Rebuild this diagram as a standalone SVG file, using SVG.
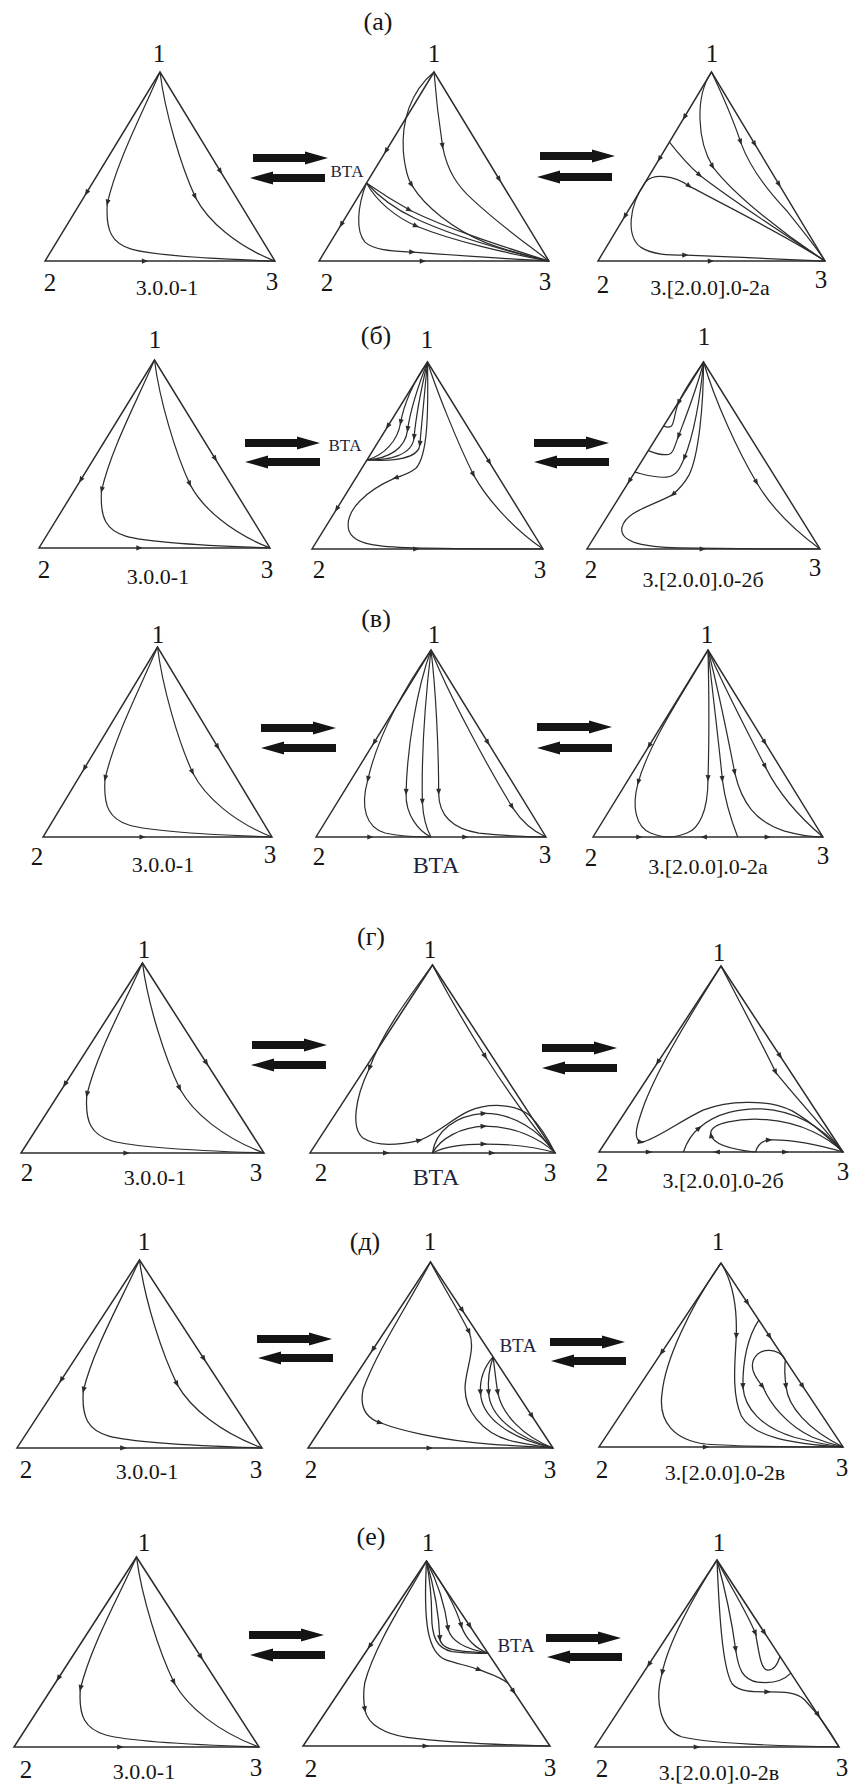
<svg xmlns="http://www.w3.org/2000/svg" xmlns:xlink="http://www.w3.org/1999/xlink" width="853" height="1789" viewBox="0 0 853 1789" font-family="Liberation Serif, serif">
<style>
.e{fill:none;stroke:#2c2c2c;stroke-width:1.5}
.c{fill:none;stroke:#2c2c2c;stroke-width:1.25}
.a,.m{fill:none;stroke:#2c2c2c;stroke-width:1.25;marker-end:url(#ah)}
text{font-family:"Liberation Serif",serif;fill:#151515;text-anchor:middle}
.v{font-size:25px}
.l{font-size:22px}
.p{font-size:26px}
.b{font-size:17px;fill:#1e2440}
.bb{font-size:24px;fill:#1e2440}
.blk{fill:#141414}
</style>
<defs>
<marker id="ah" viewBox="0 0 10 10" refX="6" refY="5" markerWidth="8" markerHeight="6.5" markerUnits="userSpaceOnUse" orient="auto"><path d="M0,1 L10,5 L0,9 Z" fill="#2c2c2c"/></marker>
<path id="ra" class="blk" d="M0,-4 H52 V-6.5 L75,0 L52,6.5 V4 H0 Z"/>
<g id="t1">
<polygon class="e" points="0,0 -120,190 120,190"/>
<path class="m" d="M-76,120.3 L-77.05,122"/>
<path class="m" d="M62.4,98.8 L63.5,100.5"/>
<path class="m" d="M-17,190 L-15,190"/>
<path class="a" d="M0,0 C-20,45 -45,90 -55,132"/>
<path class="c" d="M-55,132 C-57,160 -50,172 -30,178 C-5,185 60,188 120,190"/>
<path class="a" d="M0,0 C5,40 22,95 37,126"/>
<path class="c" d="M37,126 C50,150 80,175 120,190"/>
</g>
</defs>
<rect width="853" height="1789" fill="#fff"/>

<g id="panel-labels">
<text class="p" x="378" y="30">(а)</text>
<text class="p" x="376" y="344">(б)</text>
<text class="p" x="376" y="627">(в)</text>
<text class="p" x="371" y="945">(г)</text>
<text class="p" x="365" y="1250">(д)</text>
<text class="p" x="371" y="1545">(е)</text>
</g>

<g id="transition-arrows">
<use href="#ra" transform="translate(253,158)"/>
<use href="#ra" transform="translate(325,178) scale(-1,1)"/>
<use href="#ra" transform="translate(540,156)"/>
<use href="#ra" transform="translate(612,177) scale(-1,1)"/>
<use href="#ra" transform="translate(245,443)"/>
<use href="#ra" transform="translate(320,462) scale(-1,1)"/>
<use href="#ra" transform="translate(534,443)"/>
<use href="#ra" transform="translate(609,462) scale(-1,1)"/>
<use href="#ra" transform="translate(261,728)"/>
<use href="#ra" transform="translate(336,748) scale(-1,1)"/>
<use href="#ra" transform="translate(537,727)"/>
<use href="#ra" transform="translate(612,748) scale(-1,1)"/>
<use href="#ra" transform="translate(252,1045)"/>
<use href="#ra" transform="translate(326,1065) scale(-1,1)"/>
<use href="#ra" transform="translate(542,1048)"/>
<use href="#ra" transform="translate(617,1068) scale(-1,1)"/>
<use href="#ra" transform="translate(257,1339)"/>
<use href="#ra" transform="translate(333,1358) scale(-1,1)"/>
<use href="#ra" transform="translate(550,1342)"/>
<use href="#ra" transform="translate(626,1361) scale(-1,1)"/>
<use href="#ra" transform="translate(249,1635)"/>
<use href="#ra" transform="translate(325,1655) scale(-1,1)"/>
<use href="#ra" transform="translate(546,1638)"/>
<use href="#ra" transform="translate(622,1657) scale(-1,1)"/>
</g>

<!-- Row а -->
<g id="a-left">
<use href="#t1" transform="translate(160,72) scale(.958,.995)"/>
<text class="v" x="159" y="62">1</text><text class="v" x="50" y="291">2</text><text class="v" x="272" y="290">3</text>
<text class="l" x="167" y="295">3.0.0-1</text>
</g>
<g id="a-mid">
<g transform="translate(434,72) scale(.958,.995)">
<polygon class="e" points="0,0 -120,190 120,190"/>
<path class="m" d="M-49.46,78.31 L-50.53,80"/>
<path class="m" d="M-96.2,152.3 L-97.26,154"/>
<path class="m" d="M67.46,106.8 L68.53,108.5"/>
<path class="m" d="M-13,190 L-11,190"/>
<path class="a" d="M0,0 C-25,20 -34,50 -32,80 C-30,100 -27,108 -23,114"/>
<path class="c" d="M-23,114 C-10,135 20,158 55,172 C80,181 100,185 120,190"/>
<path class="a" d="M0,0 C2,25 5,50 9,75"/>
<path class="c" d="M9,75 C14,100 25,115 40,128 C70,155 100,175 120,190"/>
<path class="a" d="M-70.5,111.6 C-80,135 -82,160 -72,171 C-62,180 -40,180 -22,181"/>
<path class="c" d="M-22,181 C20,184 80,188 120,190"/>
<path class="a" d="M-70.5,111.6 C-55,122 -40,131 -25,139"/>
<path class="c" d="M-25,139 C15,158 70,175 120,190"/>
<path class="c" d="M-70.5,111.6 C-58,125 -40,138 -20,147 C20,165 80,181 120,190"/>
<path class="a" d="M-70.5,111.6 C-60,130 -40,146 -18,155"/>
<path class="c" d="M-18,155 C20,170 80,183 120,190"/>
</g>
<text class="b" x="347" y="177">ВТА</text>
<text class="v" x="434" y="62">1</text><text class="v" x="327" y="291">2</text><text class="v" x="545" y="290">3</text>
</g>
<g id="a-right">
<g transform="translate(711.5,72) scale(.946,.995)">
<polygon class="e" points="0,0 -120,190 120,190"/>
<path class="m" d="M-27.98,44.31 L-29.05,46"/>
<path class="m" d="M-54.5,86.3 L-55.58,88"/>
<path class="m" d="M-90.95,144 L-92.02,145.7"/>
<path class="m" d="M45.04,71.3 L46.1,73"/>
<path class="m" d="M70.68,111.9 L71.75,113.6"/>
<path class="m" d="M-2,190 L0,190"/>
<path class="a" d="M-44.46,70.4 C-35,82 -24,94 -12,104"/>
<path class="c" d="M-12,104 C20,128 80,165 120,190"/>
<path class="a" d="M-69.85,110.6 C-62,102 -40,103 -23,115"/>
<path class="c" d="M-23,115 C10,132 80,165 120,190"/>
<path class="a" d="M-69.85,110.6 C-88,135 -90,165 -75,176 C-62,184 -45,184 -27,184"/>
<path class="c" d="M-27,184 C20,186 80,188 120,190"/>
<path class="a" d="M0,0 C-18,25 -15,70 1.6,95.5"/>
<path class="c" d="M1.6,95.5 C25,125 80,165 120,190"/>
<path class="a" d="M0,0 C10,20 22,45 31,71"/>
<path class="c" d="M31,71 C40,95 60,120 80,140 C95,158 110,175 120,190"/>
</g>
<text class="v" x="712" y="62">1</text><text class="v" x="603" y="293">2</text><text class="v" x="821" y="288">3</text>
<text class="l" x="710" y="295">3.[2.0.0].0-2а</text>
</g>

<!-- Row б -->
<g id="b-left">
<use href="#t1" transform="translate(154.5,360) scale(.9625,.989)"/>
<text class="v" x="155" y="348">1</text><text class="v" x="44" y="578">2</text><text class="v" x="267" y="578">3</text>
<text class="l" x="158" y="584">3.0.0-1</text>
</g>
<g id="b-mid">
<g transform="translate(427.5,362) scale(.9625,.984)">
<polygon class="e" points="0,0 -120,190 120,190"/>
<path class="m" d="M-40.6,64.3 L-41.7,66"/>
<path class="m" d="M-93.66,148.3 L-94.7,150"/>
<path class="m" d="M63.73,100.9 L64.8,102.6"/>
<path class="m" d="M-13,190 L-11,190"/>
<path class="a" d="M0,0 C-15,20 -25,45 -28,62"/>
<path class="c" d="M-28,62 C-31,80 -45,95 -62.9,99.6"/>
<path class="a" d="M0,0 C-10,25 -18,50 -20.7,69"/>
<path class="c" d="M-20.7,69 C-23,88 -40,98 -62.9,99.6"/>
<path class="a" d="M0,0 C-6,25 -12,55 -14,77"/>
<path class="c" d="M-14,77 C-16,95 -40,100 -62.9,99.6"/>
<path class="a" d="M0,0 C-3,30 -6,65 -8,84"/>
<path class="c" d="M-8,84 C-9,98 -35,101 -62.9,99.6"/>
<path class="a" d="M0,0 C1,55 0,95 -12,108 C-20,114 -27,116 -34,118"/>
<path class="c" d="M-34,118 C-62,130 -86,150 -82,170 C-78,186 -50,188 -14,189 C30,190 80,190 120,190"/>
<path class="a" d="M0,0 C8,25 30,80 48,115"/>
<path class="c" d="M48,115 C62,140 90,170 120,190"/>
</g>
<text class="b" x="345" y="451">ВТА</text>
<text class="v" x="427" y="348">1</text><text class="v" x="319" y="578">2</text><text class="v" x="540" y="578">3</text>
</g>
<g id="b-right">
<g transform="translate(703.5,362) scale(.971,.984)">
<polygon class="e" points="0,0 -120,190 120,190"/>
<path class="m" d="M-75.7,119.9 L-76.8,121.6"/>
<path class="m" d="M-2,190 L0,190"/>
<path class="a" d="M0,0 C-10,14 -20,28 -26,42"/>
<path class="c" d="M-26,42 C-30,52 -30,62 -33,65 C-36,67 -39,66 -41.05,65"/>
<path class="a" d="M0,0 C-6,25 -18,55 -26,76"/>
<path class="c" d="M-26,76 C-30,86 -31,93 -36,94 C-44,95 -52,92 -56.8,90"/>
<path class="a" d="M0,0 C-3,35 -10,75 -20,98"/>
<path class="c" d="M-20,98 C-24,108 -28,116 -38,117 C-50,118 -62,114 -70.7,112"/>
<path class="a" d="M0,0 C0,45 -5,95 -15,115 C-20,124 -26,130 -32,135"/>
<path class="c" d="M-32,135 C-55,147 -80,152 -84,168 C-87,184 -60,188 -25,189 C30,190 80,190 120,190"/>
<path class="a" d="M0,0 C12,40 35,90 55,123"/>
<path class="c" d="M55,123 C70,148 95,172 120,190"/>
</g>
<text class="v" x="704" y="345">1</text><text class="v" x="591" y="578">2</text><text class="v" x="815" y="576">3</text>
<text class="l" x="703" y="587">3.[2.0.0].0-2б</text>
</g>

<!-- Row в -->
<g id="v-left">
<use href="#t1" transform="translate(157.5,647) scale(.954,1)"/>
<text class="v" x="158" y="643">1</text><text class="v" x="37" y="865">2</text><text class="v" x="270" y="863">3</text>
<text class="l" x="163" y="872">3.0.0-1</text>
</g>
<g id="v-mid">
<g transform="translate(431,650) scale(.958,.984)">
<polygon class="e" points="0,0 -120,190 120,190"/>
<path class="m" d="M-58.6,92.8 L-59.7,94.5"/>
<path class="m" d="M58.6,92.8 L59.7,94.5"/>
<path class="m" d="M-64.6,190 L-62.6,190"/>
<path class="m" d="M34.5,190 L36.5,190"/>
<path class="a" d="M0,0 C-25,35 -55,85 -66,132"/>
<path class="c" d="M-66,132 C-74,160 -68,180 -48,186 C-30,190 -12,190 0,190"/>
<path class="a" d="M0,0 C-15,40 -25,100 -26,145"/>
<path class="c" d="M-26,145 C-27,168 -12,185 0,190"/>
<path class="a" d="M0,0 C-6,50 -10,110 -9,155"/>
<path class="c" d="M-9,155 C-8,172 -4,183 0,190"/>
<path class="a" d="M0,0 C5,40 8,100 8,145"/>
<path class="c" d="M8,145 C8,170 25,182 50,186 C80,189 100,190 120,190"/>
<path class="a" d="M0,0 C18,45 60,120 85,160"/>
<path class="c" d="M85,160 C95,175 108,185 120,190"/>
</g>
<text class="v" x="434" y="643">1</text><text class="v" x="319" y="865">2</text><text class="v" x="545" y="863">3</text>
<text class="bb" x="436" y="873">ВТА</text>
</g>
<g id="v-right">
<g transform="translate(708,650) scale(.958,.984)">
<polygon class="e" points="0,0 -120,190 120,190"/>
<path class="m" d="M-60.83,96.3 L-61.9,98"/>
<path class="m" d="M58.6,92.8 L59.7,94.5"/>
<path class="m" d="M-73,190 L-71,190"/>
<path class="m" d="M-3,190 L-5,190"/>
<path class="m" d="M61,190 L63,190"/>
<path class="a" d="M0,0 C-20,35 -60,90 -73,135"/>
<path class="c" d="M-73,135 C-80,160 -75,180 -60,186 C-52,189 -45,190 -41,190"/>
<path class="a" d="M0,0 C1,40 1,100 0,131"/>
<path class="c" d="M0,131 C0,165 -10,182 -22,186 C-30,189 -36,190 -41,190"/>
<path class="a" d="M0,0 C5,45 12,100 15,132"/>
<path class="c" d="M15,132 C18,155 25,175 31,190"/>
<path class="a" d="M0,0 C12,45 22,95 28,125"/>
<path class="c" d="M28,125 C35,155 50,175 80,184 C95,188 110,190 120,190"/>
<path class="a" d="M0,0 C20,45 45,90 60,119"/>
<path class="c" d="M60,119 C75,148 98,172 120,190"/>
</g>
<text class="v" x="707" y="643">1</text><text class="v" x="591" y="866">2</text><text class="v" x="823" y="864">3</text>
<text class="l" x="708" y="874">3.[2.0.0].0-2а</text>
</g>

<!-- Row г -->
<g id="g-left">
<use href="#t1" transform="translate(142.5,963) scale(1.0125,1)"/>
<text class="v" x="144" y="958">1</text><text class="v" x="27" y="1181">2</text><text class="v" x="256" y="1181">3</text>
<text class="l" x="155" y="1185">3.0.0-1</text>
</g>
<g id="g-mid">
<g transform="translate(432.5,965) scale(1.021,.989)">
<polygon class="e" points="0,0 -120,190 120,190"/>
<path class="m" d="M-46.6,190 L-44.6,190"/>
<path class="m" d="M57,190 L59,190"/>
<path class="a" d="M0,0 C-25,35 -50,70 -62,105"/>
<path class="a" d="M-62,105 C-76,135 -80,165 -68,175 C-55,184 -32,182 -12,177"/>
<path class="c" d="M-12,177 C5,170 20,155 35,148 C55,139 80,140 95,152 C105,162 113,175 120,190"/>
<path class="a" d="M0,190 C3,168 22,152 51,150"/>
<path class="c" d="M51,150 C80,150 105,168 120,190"/>
<path class="a" d="M0,190 C8,175 28,164 51,163"/>
<path class="c" d="M51,163 C80,163 105,175 120,190"/>
<path class="a" d="M0,190 C12,183 30,181 51,181"/>
<path class="c" d="M51,181 C80,181 105,185 120,190"/>
<path class="a" d="M0,0 C15,30 35,65 52,93"/>
<path class="c" d="M52,93 C75,130 100,165 120,190"/>
</g>
<text class="v" x="430" y="958">1</text><text class="v" x="321" y="1181">2</text><text class="v" x="550" y="1181">3</text>
<text class="bb" x="436" y="1185">ВТА</text>
</g>
<g id="g-right">
<g transform="translate(721,966) scale(1.017,.979)">
<polygon class="e" points="0,0 -120,190 120,190"/>
<path class="m" d="M-61.45,97.3 L-62.5,99"/>
<path class="m" d="M57.4,90.9 L58.5,92.6"/>
<path class="m" d="M-72,190 L-70,190"/>
<path class="m" d="M-3,190 L-5,190"/>
<path class="m" d="M62,190 L64,190"/>
<path class="a" d="M0,0 C-30,50 -60,100 -75,140 C-82,160 -88,178 -78,180"/>
<path class="c" d="M-78,180 C-65,178 -40,158 -17,147 C5,138 45,135 70,148 C90,160 106,176 120,190"/>
<path class="a" d="M-37,190 C-33,178 -27,170 -21,165"/>
<path class="c" d="M-21,165 C-5,150 20,145 40,146 C75,148 100,165 120,190"/>
<path class="a" d="M34,190 C15,188 -8,183 -10,172"/>
<path class="c" d="M-10,172 C-12,160 20,155 45,157 C80,160 105,175 120,190"/>
<path class="a" d="M34,190 C36,183 40,178 48,177.7"/>
<path class="c" d="M48,177.7 C70,177 100,184 120,190"/>
<path class="a" d="M0,0 C15,30 38,75 54,109"/>
<path class="c" d="M54,109 C78,140 102,166 120,190"/>
</g>
<text class="v" x="719" y="961">1</text><text class="v" x="602" y="1181">2</text><text class="v" x="843" y="1180">3</text>
<text class="l" x="723" y="1188">3.[2.0.0].0-2б</text>
</g>

<!-- Row д -->
<g id="d-left">
<use href="#t1" transform="translate(139.5,1260) scale(1.021,.989)"/>
<text class="v" x="144" y="1250">1</text><text class="v" x="26" y="1478">2</text><text class="v" x="256" y="1478">3</text>
<text class="l" x="147" y="1479">3.0.0-1</text>
</g>
<g id="d-mid">
<g transform="translate(430.5,1262) scale(1.021,.979)">
<polygon class="e" points="0,0 -120,190 120,190"/>
<path class="m" d="M-55.7,88.3 L-56.8,90"/>
<path class="m" d="M30.5,48.3 L31.6,50"/>
<path class="m" d="M98.7,156.3 L99.79,158"/>
<path class="m" d="M-2,190 L0,190"/>
<path class="a" d="M0,0 C-20,40 -52,90 -66,130 C-70,150 -62,160 -48.5,164.5"/>
<path class="c" d="M-48.5,164.5 C-30,172 10,182 58,186 C85,188 105,189 120,190"/>
<path class="a" d="M0,0 C12,25 28,50 38,72"/>
<path class="c" d="M38,72 C44,88 36,105 34,125 C32,150 50,175 80,183 C100,187 110,189 120,190"/>
<path class="a" d="M61.3,97 C52,108 48,120 49,134"/>
<path class="c" d="M49,134 C50,155 70,178 120,190"/>
<path class="a" d="M61.3,97 C57,110 56,122 57,134"/>
<path class="c" d="M57,134 C58,155 80,178 120,190"/>
<path class="a" d="M61.3,97 C63,110 64,122 66,134"/>
<path class="c" d="M66,134 C70,155 90,178 120,190"/>
</g>
<text class="b" x="518" y="1352" style="font-size:19px">ВТА</text>
<text class="v" x="430" y="1250">1</text><text class="v" x="311" y="1478">2</text><text class="v" x="550" y="1478">3</text>
</g>
<g id="d-right">
<g transform="translate(721,1263) scale(1.017,.968)">
<polygon class="e" points="0,0 -120,190 120,190"/>
<path class="m" d="M-57.6,91.3 L-58.7,93"/>
<path class="m" d="M25.3,40 L26.4,41.7"/>
<path class="m" d="M47.2,74.7 L48.3,76.4"/>
<path class="m" d="M79.6,126.1 L80.7,127.8"/>
<path class="m" d="M-16,190 L-14,190"/>
<path class="c" d="M0,0 C-30,45 -55,100 -58,135 C-62,165 -45,183 -15,187 C20,190 80,190 120,190"/>
<path class="a" d="M0,0 C12,20 16,45 15,76"/>
<path class="c" d="M15,76 C14,100 10,135 20,158 C32,180 70,187 120,190"/>
<path class="a" d="M37.2,59 C27,75 21,100 21.6,128"/>
<path class="c" d="M21.6,128 C23,150 40,170 72,180 C95,186 110,189 120,190"/>
<path class="a" d="M63.3,100 C58,88 38,86 32,100 C28,110 35,120 41.3,128"/>
<path class="c" d="M41.3,128 C48,145 65,168 90,180 C102,185 112,188 120,190"/>
<path class="a" d="M63.3,100 C62,110 63,120 64,128"/>
<path class="c" d="M64,128 C66,148 85,172 120,190"/>
</g>
<text class="v" x="718" y="1250">1</text><text class="v" x="602" y="1478">2</text><text class="v" x="842" y="1476">3</text>
<text class="l" x="725" y="1480">3.[2.0.0].0-2в</text>
</g>

<!-- Row е -->
<g id="e-left">
<use href="#t1" transform="translate(136.5,1557) scale(1.021,1)"/>
<text class="v" x="144" y="1551">1</text><text class="v" x="26" y="1778">2</text><text class="v" x="256" y="1776">3</text>
<text class="l" x="144" y="1779">3.0.0-1</text>
</g>
<g id="e-mid">
<g transform="translate(426.5,1561) scale(1.029,.974)">
<polygon class="e" points="0,0 -120,190 120,190"/>
<path class="m" d="M-54.5,86.3 L-55.6,88"/>
<path class="m" d="M41.5,65.7 L42.6,67.4"/>
<path class="m" d="M83.9,132.9 L85,134.6"/>
<path class="m" d="M-2,190 L0,190"/>
<path class="a" d="M0,0 C-18,35 -50,85 -60,125 C-62,138 -61,146 -59.8,153"/>
<path class="c" d="M-59.8,153 C-57,168 -40,178 -19,181 C20,186 80,189 120,190"/>
<path class="c" d="M0,0 C3,18 5,35 5,55 C5,78 10,90 25,93 C40,95 50,95 59.7,94.5"/>
<path class="a" d="M0,0 C6,22 12,50 13,80"/>
<path class="c" d="M13,80 C14,88 22,91 35,92.5 C45,93.5 53,94 59.7,94.5"/>
<path class="a" d="M0,0 C10,20 18,45 21,70"/>
<path class="c" d="M21,70 C24,82 35,90 59.7,94.5"/>
<path class="a" d="M0,0 C15,22 28,45 34,67"/>
<path class="c" d="M34,67 C38,80 48,90 59.7,94.5"/>
<path class="a" d="M0,0 C-3,60 0,95 20,102 C32,106 42,108 52,112"/>
<path class="c" d="M52,112 C62,116 72,119 79.3,125.6"/>
</g>
<text class="b" x="516" y="1652" style="font-size:19px">ВТА</text>
<text class="v" x="428" y="1551">1</text><text class="v" x="311" y="1777">2</text><text class="v" x="550" y="1776">3</text>
</g>
<g id="e-right">
<g transform="translate(717,1560) scale(1.017,.984)">
<polygon class="e" points="0,0 -120,190 120,190"/>
<path class="m" d="M-66.3,105 L-67.4,106.7"/>
<path class="m" d="M45.9,72.8 L47,74.5"/>
<path class="m" d="M98.7,156.3 L99.8,158"/>
<path class="m" d="M-21,190 L-19,190"/>
<path class="a" d="M0,0 C-25,40 -48,85 -54,115"/>
<path class="c" d="M-54,115 C-62,145 -55,172 -35,179.6 C-10,186 60,189 120,190"/>
<path class="a" d="M0,0 C12,25 28,50 38,75"/>
<path class="c" d="M38,75 C42,100 44,112 50,112 C56,112 60,105 61.9,98"/>
<path class="a" d="M0,0 C8,30 15,65 18.4,91.5"/>
<path class="c" d="M18.4,91.5 C21,110 25,122 40,124 C55,126 66,122 72.6,115"/>
<path class="a" d="M0,0 C2,50 5,110 15,126 C22,134 35,134 50.5,134"/>
<path class="c" d="M50.5,134 C65,134 78,134 86,142 C98,155 110,172 120,190"/>
</g>
<text class="v" x="719" y="1551">1</text><text class="v" x="602" y="1777">2</text><text class="v" x="842" y="1776">3</text>
<text class="l" x="719" y="1780">3.[2.0.0].0-2в</text>
</g>
</svg>
